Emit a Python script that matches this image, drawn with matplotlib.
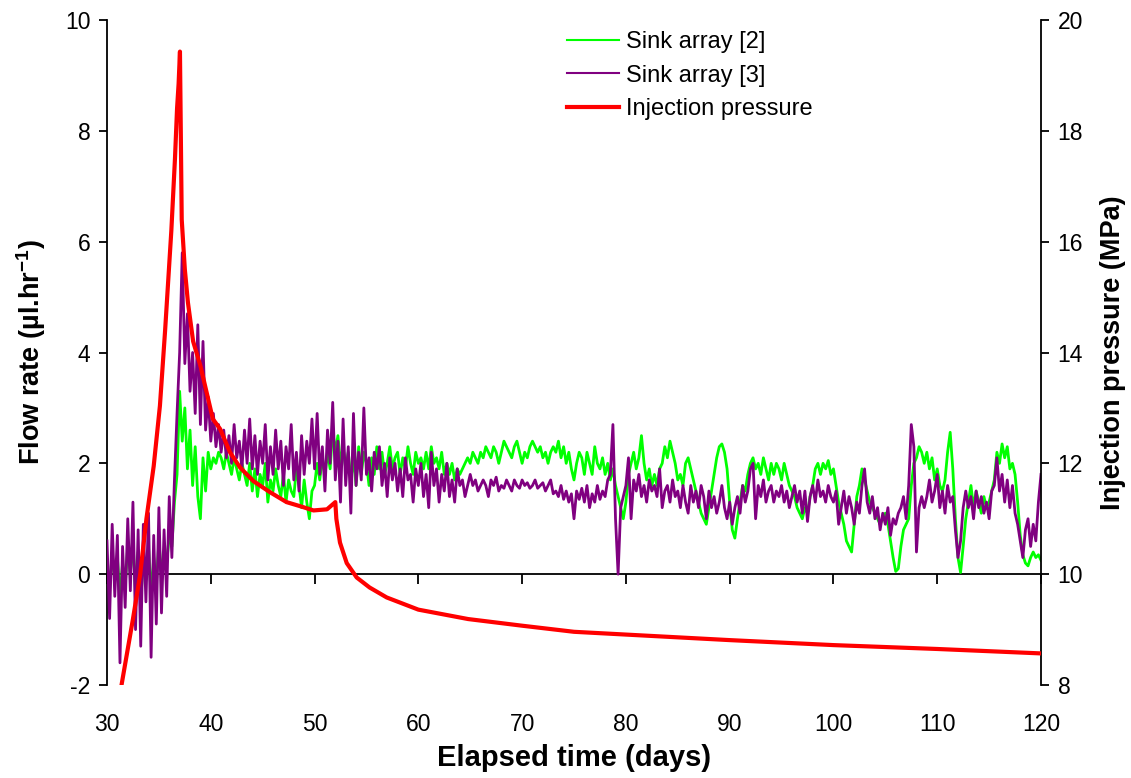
import numpy as np
import matplotlib
matplotlib.use("Agg")
import matplotlib.pyplot as plt
from matplotlib.lines import Line2D

plt.rcParams['font.family'] = ['Liberation Sans', 'DejaVu Sans']
plt.rcParams['axes.unicode_minus'] = False
plt.rcParams['mathtext.fontset'] = 'custom'
plt.rcParams['mathtext.rm'] = 'Liberation Sans'
plt.rcParams['mathtext.bf'] = 'Liberation Sans:bold'
plt.rcParams['mathtext.default'] = 'bf'

# ---------------- data ----------------
# Sink array [3] (purple) flow rate, µl/hr, sampled every 0.25 day from day 30 to 120
sink3 = [
    0.6, -0.8, 0.9, -0.4,   # 30
    0.7, -1.6, 0.5, -0.6,   # 31
    1.0, -0.3, 1.3, -1.0,   # 32
    0.8, -1.3, 0.9, -0.5,   # 33
    1.1, -1.5, 0.7, -0.9,   # 34
    1.2, -0.7, 0.8, -0.4,   # 35
    1.4, 0.3, 1.7, 2.9,     # 36
    4.0, 5.8, 3.8, 4.7,     # 37
    3.3, 4.0, 2.9, 4.5,     # 38
    2.7, 4.2, 2.6, 3.2,     # 39
    2.4, 2.9, 2.3, 2.7,     # 40
    2.2, 2.6, 2.1, 2.5,     # 41
    2.0, 2.7, 2.1, 2.4,     # 42
    1.9, 2.6, 2.0, 2.8,     # 43
    1.9, 2.5, 1.8, 2.4,     # 44
    2.0, 2.7, 1.7, 2.3,     # 45
    1.8, 2.6, 1.9, 2.4,     # 46
    1.6, 2.3, 1.9, 2.7,     # 47
    1.7, 2.2, 1.5, 2.5,     # 48
    1.8, 2.4, 2.0, 2.8,     # 49
    1.9, 2.9, 1.8, 2.3,     # 50
    1.5, 2.6, 2.0, 3.1,     # 51
    1.7, 2.4, 1.3, 2.8,     # 52
    1.6, 2.3, 1.1, 2.9,     # 53
    1.6, 2.2, 1.7, 3.0,     # 54
    1.8, 2.1, 1.5, 2.2,     # 55
    1.9, 2.3, 1.6, 2.0,     # 56
    1.4, 2.1, 1.7, 2.0,     # 57
    1.5, 1.9, 1.4, 2.1,     # 58
    1.7, 1.8, 1.3, 1.9,     # 59
    1.6, 2.0, 1.4, 1.8,     # 60
    1.2, 2.2, 1.6, 1.9,     # 61
    1.3, 1.8, 1.5, 2.0,     # 62
    1.4, 1.7, 1.3, 1.9,     # 63
    1.6, 1.7, 1.4, 1.6,     # 64
    1.8, 1.6, 1.7, 1.5,     # 65
    1.6, 1.7, 1.6, 1.4,     # 66
    1.7, 1.6, 1.75, 1.5,    # 67
    1.6, 1.55, 1.7, 1.6,    # 68
    1.5, 1.7, 1.6, 1.55,    # 69
    1.7, 1.6, 1.65, 1.55,   # 70
    1.6, 1.7, 1.55, 1.6,    # 71
    1.65, 1.5, 1.6, 1.7,    # 72
    1.45, 1.5, 1.4, 1.6,    # 73
    1.35, 1.5, 1.3, 1.45,   # 74
    1.0, 1.5, 1.35, 1.55,   # 75
    1.3, 1.6, 1.2, 1.45,    # 76
    1.3, 1.6, 1.35, 1.5,    # 77
    1.4, 1.7, 1.8, 2.7,     # 78
    1.0, 0.0, 1.2, 1.4,     # 79
    1.6, 2.1, 1.0, 1.7,     # 80
    1.5, 1.8, 1.4, 1.6,     # 81
    1.3, 1.7, 1.5, 1.6,     # 82
    1.4, 1.9, 1.2, 1.5,     # 83
    1.6, 1.3, 1.7, 1.4,     # 84
    1.5, 1.2, 1.6, 1.3,     # 85
    1.1, 1.6, 1.3, 1.5,     # 86
    1.2, 1.6, 1.4, 1.0,     # 87
    1.5, 1.2, 1.4, 1.1,     # 88
    1.3, 1.6, 1.2, 1.0,     # 89
    1.3, 0.9, 1.2, 1.4,     # 90
    1.1, 1.6, 1.3, 1.5,     # 91
    1.9, 2.0, 1.0, 1.6,     # 92
    1.4, 1.7, 1.3, 1.5,     # 93
    1.6, 1.3, 1.5, 1.4,     # 94
    1.6, 1.3, 1.5, 1.2,     # 95
    1.4, 1.6, 1.3, 1.5,     # 96
    1.1, 1.5, 0.95, 1.4,    # 97
    1.6, 1.3, 1.7, 1.4,     # 98
    1.5, 1.3, 1.6, 1.4,     # 99
    1.3, 1.5, 0.9, 1.2,     # 100
    1.5, 1.1, 1.4, 1.2,     # 101
    0.9, 1.3, 1.1, 1.6,     # 102
    1.9, 1.3, 1.1, 1.4,     # 103
    1.0, 1.2, 0.8, 1.1,     # 104
    0.9, 1.2, 0.7, 1.0,     # 105
    0.9, 1.1, 1.2, 1.4,     # 106
    1.0, 1.6, 2.7, 2.3,     # 107
    0.4, 1.2, 1.4, 1.2,     # 108
    1.4, 1.7, 1.3, 1.5,     # 109
    1.8, 1.2, 1.5, 1.1,     # 110
    1.6, 1.3, 1.4, 0.8,     # 111
    0.3, 0.6, 1.2, 1.5,     # 112
    1.2, 1.4, 1.0, 1.5,     # 113
    1.2, 1.4, 1.1, 1.3,     # 114
    1.0, 1.5, 1.6, 2.1,     # 115
    1.5, 1.8, 1.3, 1.7,     # 116
    1.2, 1.6, 1.1, 0.9,     # 117
    0.6, 0.3, 0.8, 1.0,     # 118
    0.5, 0.9, 0.6, 1.3,     # 119
    1.8,                    # 120
]

# Sink array [2] (green) flow rate, µl/hr, same sampling
sink2 = [
    0.2, -0.3, 0.4, -0.1,   # 30
    0.3, -0.4, 0.2, -0.2,   # 31
    0.5, 0.0, 0.6, -0.3,    # 32
    0.4, -0.5, 0.3, -0.1,   # 33
    0.5, -0.4, 0.3, -0.2,   # 34
    0.6, 0.0, 0.4, 0.2,     # 35
    0.7, 0.5, 1.3, 1.8,     # 36
    3.3, 2.4, 3.0, 1.9,     # 37
    2.6, 1.6, 2.3, 1.4,     # 38
    1.0, 2.1, 1.5, 2.2,     # 39
    1.9, 2.1, 2.0, 2.2,     # 40
    2.1, 1.9, 2.2, 2.0,     # 41
    1.8, 2.1, 1.9, 1.7,     # 42
    2.0, 1.8, 1.6, 2.0,     # 43
    1.5, 1.9, 1.4, 1.8,     # 44
    1.6, 2.0, 1.3, 1.7,     # 45
    1.5, 1.9, 1.6, 1.4,     # 46
    1.8, 1.3, 1.7, 1.5,     # 47
    1.4, 1.9, 1.6, 1.2,     # 48
    1.7, 1.3, 1.0, 1.5,     # 49
    1.6, 2.0, 1.7, 2.1,     # 50
    1.8, 2.2, 1.9, 2.6,     # 51
    2.2, 2.5, 2.0, 2.3,     # 52
    1.9, 2.2, 1.7, 2.1,     # 53
    1.6, 2.3, 1.8, 2.2,     # 54
    2.0, 1.6, 2.1, 1.8,     # 55
    2.3, 1.9, 2.2, 1.8,     # 56
    2.0, 2.3, 1.9, 2.1,     # 57
    2.2, 1.8, 2.1, 1.9,     # 58
    2.3, 2.0, 1.8, 2.2,     # 59
    2.0, 2.1, 1.9, 2.2,     # 60
    1.9, 2.3, 2.0, 2.1,     # 61
    1.9, 2.2, 1.8, 2.0,     # 62
    1.8, 2.0, 1.7, 1.9,     # 63
    1.8, 1.9, 2.0, 2.1,     # 64
    2.0, 2.2, 2.1, 2.0,     # 65
    2.2, 2.1, 2.3, 2.2,     # 66
    2.1, 2.3, 2.2, 2.0,     # 67
    2.2, 2.4, 2.3, 2.2,     # 68
    2.1, 2.3, 2.4, 2.2,     # 69
    2.0, 2.2, 2.1, 2.3,     # 70
    2.4, 2.3, 2.2, 2.3,     # 71
    2.1, 2.2, 2.0, 2.2,     # 72
    2.3, 2.2, 2.4, 2.1,     # 73
    2.3, 2.0, 2.2, 1.9,     # 74
    1.7, 2.0, 2.2, 2.1,     # 75
    1.8, 2.2, 2.0, 1.8,     # 76
    2.3, 2.0, 1.9, 2.1,     # 77
    1.8, 2.0, 1.7, 1.9,     # 78
    1.6, 1.4, 1.2, 1.0,     # 79
    1.3, 1.8, 2.0, 2.2,     # 80
    1.9, 2.1, 2.5, 2.0,     # 81
    1.7, 1.9, 1.6, 1.8,     # 82
    1.6, 1.9, 2.0, 2.3,     # 83
    2.1, 2.4, 2.2, 2.0,     # 84
    1.7, 1.8, 1.6, 2.0,     # 85
    2.1, 1.9, 1.7, 1.5,     # 86
    1.3, 1.1, 1.0, 0.9,     # 87
    1.2, 1.5, 1.8, 2.1,     # 88
    2.3, 2.35, 2.2, 1.9,    # 89
    1.3, 0.8, 0.65, 1.0,    # 90
    1.3, 1.6, 1.5, 1.8,     # 91
    2.0, 2.1, 1.9, 2.0,     # 92
    1.8, 2.1, 1.9, 1.7,     # 93
    2.0, 1.8, 2.0, 1.9,     # 94
    1.7, 2.0, 1.8, 1.6,     # 95
    1.5, 1.4, 1.2, 1.1,     # 96
    1.0, 1.2, 1.1, 1.4,     # 97
    1.6, 1.9, 2.0, 1.8,     # 98
    2.0, 1.9, 2.05, 1.8,    # 99
    1.9, 1.6, 1.3, 1.1,     # 100
    0.9, 0.6, 0.5, 0.4,     # 101
    0.9, 1.4, 1.6, 1.9,     # 102
    1.7, 1.5, 1.3, 1.2,     # 103
    1.1, 1.0, 0.9, 1.0,     # 104
    1.1, 0.9, 0.6, 0.3,     # 105
    0.05, 0.1, 0.5, 0.8,    # 106
    0.9, 1.0, 1.6, 2.0,     # 107
    2.1, 2.3, 2.2, 2.0,     # 108
    2.2, 1.9, 2.1, 1.7,     # 109
    1.9, 1.6, 1.5, 1.7,     # 110
    2.2, 2.56, 1.9, 1.0,    # 111
    0.3, 0.03, 0.5, 1.0,    # 112
    1.3, 1.6, 1.2, 1.5,     # 113
    1.3, 1.1, 1.4, 1.2,     # 114
    1.3, 1.5, 1.7, 2.2,     # 115
    2.0, 2.35, 2.1, 2.3,    # 116
    1.9, 2.0, 1.8, 1.3,     # 117
    0.7, 0.35, 0.2, 0.15,   # 118
    0.3, 0.4, 0.3, 0.35,    # 119
    0.25,                   # 120
]

# Injection pressure (MPa)
press_t = [31.4, 32.5, 33.2, 33.8, 34.5, 35.1, 35.6, 35.9, 36.2, 36.55, 36.75, 36.9,
           37.03, 37.2, 37.5, 37.8, 38.3, 39.0, 39.6, 40.2, 40.9, 41.85, 42.8, 44.1,
           45.7, 47.3, 48.9, 49.9, 51.2, 52.0, 52.1, 52.45, 53.1, 54.06, 55.3, 56.95,
           60.0, 64.8, 70.0, 75.0, 80.0, 90.0, 100.0, 110.0, 120.0]
press_v = [8.0, 9.19, 10.0, 11.0, 11.95, 13.04, 14.4, 15.3, 16.2, 17.5, 18.4, 18.85,
           19.43, 16.4, 15.5, 14.9, 14.2, 13.76, 13.28, 12.8, 12.62, 12.2, 11.93, 11.68,
           11.48, 11.3, 11.21, 11.15, 11.17, 11.3, 11.0, 10.57, 10.2, 9.94, 9.76, 9.58,
           9.36, 9.19, 9.07, 8.96, 8.91, 8.81, 8.72, 8.65, 8.57]

x_ticks = [30, 40, 50, 60, 70, 80, 90, 100, 110, 120]
left_ticks = [-2, 0, 2, 4, 6, 8, 10]
right_ticks = [8, 10, 12, 14, 16, 18, 20]

t3 = np.linspace(30, 120, len(sink3))
t2 = np.linspace(30, 120, len(sink2))

# ---------------- figure ----------------
fig = plt.figure(figsize=(11.31, 7.78), dpi=100)
ax = fig.add_axes([107 / 1131, 1 - 685 / 778, (1041 - 107) / 1131, (685 - 20) / 778])
ax2 = ax.twinx()

GREEN = '#00FF00'
PURPLE = '#800080'
RED = '#FF0000'

ax.plot(t2, sink2, color=GREEN, lw=2.0, zorder=2)
ax.plot(t3, sink3, color=PURPLE, lw=2.0, zorder=3)
ax2.plot(press_t, press_v, color=RED, lw=3.0, zorder=4)

ax.set_xlim(30, 120)
ax.set_ylim(-2, 10)
ax2.set_ylim(8, 20)
ax.set_yticks(left_ticks)
ax2.set_yticks(right_ticks)
ax.set_xticks(x_ticks)

for a in (ax, ax2):
    a.spines['top'].set_visible(False)
    a.spines['bottom'].set_visible(False)
    a.patch.set_visible(False)
ax.spines['left'].set_linewidth(1.3)
ax2.spines['right'].set_linewidth(1.3)
ax.spines['right'].set_visible(False)
ax2.spines['left'].set_visible(False)

FS = 16.5
ax.tick_params(axis='y', direction='out', length=6, width=1.3, labelsize=FS, pad=6)
ax2.tick_params(axis='y', direction='out', length=6, width=1.3, labelsize=FS, pad=6)
ax.tick_params(axis='x', length=0, labelsize=FS, pad=20)

# x axis line with ticks at flow rate = 0
sec = ax.secondary_xaxis(0, transform=ax.transData)
sec.set_xticks(x_ticks)
sec.set_xticklabels([])
sec.tick_params(axis='x', direction='out', length=7, width=1.3)
sec.spines['bottom'].set_linewidth(1.3)

ax.set_xlabel('Elapsed time (days)', fontsize=21, fontweight='bold', labelpad=6)
ax.set_ylabel('Flow rate (\u00b5l.hr$^{-1}$)', fontsize=19.5, fontweight='bold', labelpad=12)
ax2.set_ylabel('Injection pressure (MPa)', fontsize=19.5, fontweight='bold', labelpad=12)

handles = [Line2D([], [], color=GREEN, lw=1.5),
           Line2D([], [], color=PURPLE, lw=1.5),
           Line2D([], [], color=RED, lw=3.0)]
labels = ['Sink array [2]', 'Sink array [3]', 'Injection pressure']
ax2.legend(handles, labels, loc='upper left', bbox_to_anchor=(0.477, 1.005),
           frameon=False, fontsize=17, handlelength=2.2, handletextpad=0.3,
           labelspacing=0.5, borderaxespad=0.2)

fig.savefig('out.png', dpi=100)
